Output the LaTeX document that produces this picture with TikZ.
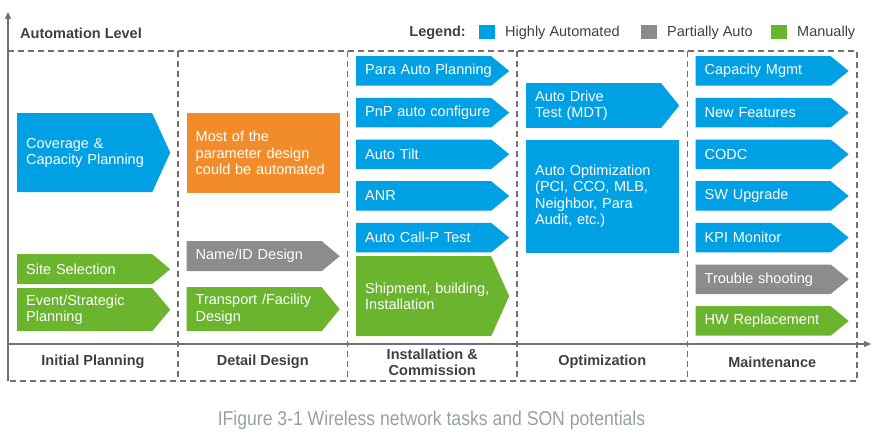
\documentclass[tikz,border=0pt]{standalone}
\usepackage{fontspec}
\setmainfont{Liberation Sans}
\newfontfamily\capfont{Liberation Sans}[FakeStretch=0.88]
\usetikzlibrary{arrows.meta}

\definecolor{autoblue}{RGB}{0,160,228}
\definecolor{partgray}{RGB}{140,140,140}
\definecolor{mangreen}{RGB}{106,180,46}
\definecolor{notegold}{RGB}{242,140,42}
\definecolor{linegray}{RGB}{112,112,112}
\definecolor{labelgray}{RGB}{64,64,64}
\definecolor{captiongray}{RGB}{150,160,166}

\begin{document}
\begin{tikzpicture}[x=1pt,y=-1pt,
  boxfont/.style={font=\fontsize{14.5}{16.5}\selectfont},
  % arrow-shaped task box: body plus an 18pt pointer on the right
  task/.style n args={2}{rectangle, anchor=north west, inner xsep=9pt, inner ysep=0pt,
    minimum width=153pt, minimum height=#2, text width=135pt, align=left,
    text=white, boxfont,
    path picture={\fill[#1] (path picture bounding box.south west)
      -- (path picture bounding box.north west)
      -- ([xshift=-18pt]path picture bounding box.north east)
      -- (path picture bounding box.east)
      -- ([xshift=-18pt]path picture bounding box.south east) -- cycle;}},
  % plain rectangular block
  block/.style n args={2}{rectangle, anchor=north west, inner xsep=9pt, inner ysep=0pt,
    minimum width=153pt, minimum height=#2, text width=135pt, align=left,
    text=white, boxfont, fill=#1},
  divider/.style={draw=linegray, line width=1.2pt, dash pattern=on 6pt off 4pt},
  axisline/.style={draw=linegray, line width=1.3pt},
  axistip/.style={-{Triangle[length=7pt,width=6pt]}},
  phase/.style={text=labelgray, font=\fontsize{14.5}{16}\selectfont\bfseries, align=center},
  keybox/.style={minimum width=16pt, minimum height=14pt, inner sep=0pt},
  keytext/.style={anchor=west, text=labelgray, boxfont, inner sep=0pt}
]
\useasboundingbox (0,0) rectangle (873,436);

% frame and column dividers
\coordinate (tl) at (8,51);
\coordinate (tr) at (857,51);
\coordinate (bl) at (8,381);
\coordinate (br) at (857,381);
\foreach \cx [count=\i] in {178,347.5,517,687.5} {
  \coordinate (dt\i) at (\cx,51);
  \coordinate (db\i) at (\cx,381);
  \draw[divider] (dt\i) -- (db\i);
}
\draw[divider] (tl) -- (tr) -- (br) -- (bl);

% axes
\coordinate (ytip) at (8,12);
\coordinate (xstart) at (8,344);
\coordinate (xtip) at (871,344);
\draw[axisline, axistip] (bl) -- (ytip);
\draw[axisline, axistip] (xstart) -- (xtip);

% heading and legend
\node[anchor=west, inner sep=0pt, text=labelgray, font=\fontsize{14.5}{16}\selectfont\bfseries] (title) at (20,33) {Automation Level};
\node[anchor=east, inner sep=0pt, text=labelgray, font=\fontsize{14.5}{16}\selectfont\bfseries] (legend) at (466,33) {Legend:};
\node[keybox, fill=autoblue] (kblue) at (487,32) {};
\node[keytext] (tblue) at (505,33) {Highly Automated};
\node[keybox, fill=partgray] (kgray) at (649,32) {};
\node[keytext] (tgray) at (667,33) {Partially Auto};
\node[keybox, fill=mangreen] (kgreen) at (779,32) {};
\node[keytext] (tgreen) at (797,33) {Manually};

% Initial Planning
\node[task={autoblue}{79pt}] (cov) at (17,113) {Coverage \&\\Capacity Planning};
\node[task={mangreen}{30pt}] (site) at (17,254) {Site Selection};
\node[task={mangreen}{43pt}] (event) at (17,288) {Event/Strategic\\Planning};

% Detail Design
\node[block={notegold}{80pt}] (param) at (186.5,113) {Most of the\\parameter design\\could be automated};
\node[task={partgray}{30pt}] (nameid) at (186.5,241) {Name/ID Design};
\node[task={mangreen}{44pt}] (transport) at (186.5,287) {Transport /Facility\\Design};

% Installation & Commission
\node[task={autoblue}{29.5pt}] (para) at (356,56) {Para Auto Planning};
\node[task={autoblue}{29.5pt}] (pnp) at (356,97.7) {PnP auto configure};
\node[task={autoblue}{29.5pt}] (tilt) at (356,139.3) {Auto Tilt};
\node[task={autoblue}{29.5pt}] (anr) at (356,181) {ANR};
\node[task={autoblue}{29.5pt}] (callp) at (356,222.7) {Auto Call-P Test};
\node[task={mangreen}{80pt}] (ship) at (356,256) {Shipment, building,\\Installation};

% Optimization
\node[task={autoblue}{44.7pt}] (mdt) at (526,83) {Auto Drive\\Test (MDT)};
\node[block={autoblue}{113.4pt}] (opt) at (526,139.3) {Auto Optimization\\(PCI, CCO, MLB,\\Neighbor, Para\\Audit, etc.)};

% Maintenance
\node[task={autoblue}{29.5pt}] (cap) at (695.5,56) {Capacity Mgmt};
\node[task={autoblue}{29.5pt}] (feat) at (695.5,97.7) {New Features};
\node[task={autoblue}{29.5pt}] (codc) at (695.5,139.3) {CODC};
\node[task={autoblue}{29.5pt}] (sw) at (695.5,181) {SW Upgrade};
\node[task={autoblue}{29.5pt}] (kpi) at (695.5,222.7) {KPI Monitor};
\node[task={partgray}{29.5pt}] (trouble) at (695.5,264.3) {Trouble shooting};
\node[task={mangreen}{29.5pt}] (hw) at (695.5,306) {HW Replacement};

% phase labels
\node[phase] (p1) at (93,362) {Initial Planning};
\node[phase] (p2) at (262.75,362) {Detail Design};
\node[phase] (p3) at (432.25,362) {Installation \&\\Commission};
\node[phase] (p4) at (602.25,362) {Optimization};
\node[phase] (p5) at (772.25,362) {Maintenance};

% caption
\node[text=captiongray, font=\capfont\fontsize{20}{22}\selectfont] (caption) at (431.5,420) {IFigure 3-1 Wireless network tasks and SON potentials};
\end{tikzpicture}
\end{document}
